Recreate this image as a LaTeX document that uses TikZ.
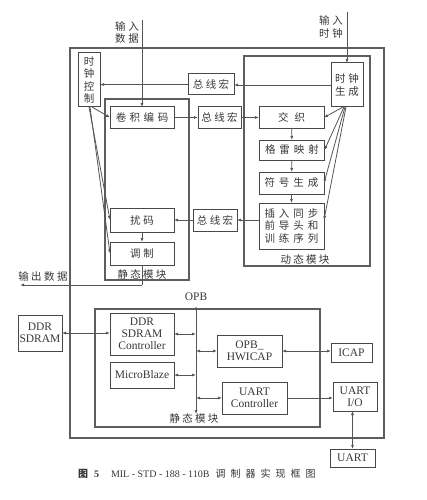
\documentclass[tikz,border=0pt]{standalone}
\usepackage{fontspec}
\setmainfont{Liberation Serif}
\newfontfamily\cjk{Noto Sans CJK SC}
\usetikzlibrary{arrows.meta,calc}
\definecolor{lc}{HTML}{555555}
\definecolor{bc}{HTML}{484848}
\definecolor{tc}{HTML}{383838}
\definecolor{fc}{HTML}{5E5E5E}
\newcommand\cg[1]{\hspace{#1pt}}
\begin{document}
\begin{tikzpicture}[x=1pt,y=-1pt,
  every node/.style={inner sep=0pt,outer sep=0pt,text=tc},
  ln/.style={draw=lc,line width=0.8pt},
  arr/.style={ln,-{Latex[length=4pt,width=3pt]}},
  barr/.style={ln,{Latex[length=4pt,width=3pt]}-{Latex[length=4pt,width=3pt]}},
  box/.style={draw=bc,line width=1pt,align=center},
  cn/.style={font=\cjk\fontsize{10.5}{12.4}\selectfont,align=center},
  en/.style={font=\fontsize{11.5}{12}\selectfont,align=center},
  frame/.style={draw=fc,line width=1.2pt},
]
\fill[white] (0,0) rectangle (427,500);
\useasboundingbox (0,0) rectangle (427,500);

% containers
\draw[frame] (70,48) rectangle (384,438);
\draw[frame] (105,99) rectangle (189,280);
\draw[frame] (244,56) rectangle (370,266);
\draw[frame] (95,309) rectangle (320,427);

% upper nodes
\node[box,cn,minimum width=22pt,minimum height=54pt] (sclk) at (89,80) {时\\钟\\控\\制};
\node[box,cn,minimum width=64pt,minimum height=21pt] (jj) at (142,117.5) {卷\cg{3.5}积\cg{3.5}编\cg{3.5}码};
\node[box,cn,minimum width=46pt,minimum height=21pt] (bus1) at (211,84.5) {总\cg{2.3}线\cg{2.3}宏};
\node[box,cn,minimum width=43pt,minimum height=21pt] (bus2) at (219.5,117.5) {总\cg{2.3}线\cg{2.3}宏};
\node[box,cn,minimum width=44pt,minimum height=22pt] (bus3) at (215,220) {总\cg{2.3}线\cg{2.3}宏};
\node[box,cn,minimum width=32pt,minimum height=44pt] (clkgen) at (347,85) {时\cg{3}钟\\生\cg{3}成};
\node[box,cn,minimum width=65pt,minimum height=21pt] (jz) at (291.5,117.5) {交\cg{6}织};
\node[box,cn,minimum width=65pt,minimum height=20pt] (gl) at (292,150) {格\cg{4}雷\cg{4}映\cg{4}射};
\node[box,cn,minimum width=65pt,minimum height=22pt] (fh) at (291.5,183) {符\cg{4}号\cg{4}生\cg{4}成};
\node[box,cn,minimum width=65pt,minimum height=46pt] (cr) at (291.5,226) {插\cg{4}入\cg{4}同\cg{4}步\\前\cg{4}导\cg{4}头\cg{4}和\\训\cg{4}练\cg{4}序\cg{4}列};
\node[box,cn,minimum width=64pt,minimum height=24pt] (rm) at (142,220) {扰\cg{3}码};
\node[box,cn,minimum width=64pt,minimum height=23pt] (tz) at (142,253.5) {调\cg{3}制};

% labels
\node[cn] (lbl1) at (142,274) {静\cg{2.3}态\cg{2.3}模\cg{2.3}块};
\node[cn] (lbl2) at (305,259) {动\cg{2.3}态\cg{2.3}模\cg{2.3}块};
\node[cn] (lbl3) at (194,418) {静\cg{2.3}态\cg{2.3}模\cg{2.3}块};
\node[cn] (inD) at (127,32.5) {输\cg{3}入\\数\cg{3}据};
\node[cn] (inC) at (331,27) {输\cg{3}入\\时\cg{3}钟};
\node[cn] (outD) at (43,277) {输\cg{2.5}出\cg{2.5}数\cg{2.5}据};

\coordinate (dtop) at (142,20);
\coordinate (ctop) at (347,12);
\coordinate (ocorner) at (142,285);
\coordinate (oend) at (20,285);

% upper connectors
\draw[arr] (dtop) -- (jj);
\draw[arr] (ctop) -- (clkgen);
\draw[arr] (clkgen.west) -- (clkgen.west -| bus1.east);
\draw[arr] (bus1.west) -- (bus1.west -| sclk.east);
\draw[arr] (jj) -- (bus2);
\draw[arr] (bus2) -- (jz);
\draw[arr] (jz) -- (gl);
\draw[arr] (gl) -- (fh);
\draw[arr] (fh) -- (cr);
\draw[arr] (cr.west |- bus3) -- (bus3.east);
\draw[arr] (bus3) -- (rm);
\draw[arr] (rm) -- (tz);
\draw[ln] (tz.south) -- (ocorner);
\draw[arr] (ocorner) -- (oend);

% clock fan from clock generation
\draw[arr] ([xshift=12pt]clkgen.south west) -- (jz.east);
\draw[arr] ([xshift=13pt]clkgen.south west) -- (gl.east);
\draw[arr] ([xshift=14pt]clkgen.south west) -- (fh.east);
\draw[arr] ([xshift=15pt]clkgen.south west) -- ($(cr.east)+(0,-6)$);

% clock control fan
\draw[arr] ([xshift=14pt]sclk.south west) -- (jj.west);
\draw[arr] ([xshift=11pt]sclk.south west) -- (rm.west);
\draw[arr] ([xshift=12pt]sclk.south west) -- (tz.west);

% lower part
\node[en] (opb) at (196,297) {OPB};
\coordinate (busT) at (196,306);
\coordinate (busB) at (196,414);
\draw[barr] (busT) -- (busB);
\node[box,en,minimum width=44pt,minimum height=36pt] (ddr) at (40,333) {DDR\\SDRAM};
\node[box,en,minimum width=64pt,minimum height=42pt] (ddrc) at (142,334) {DDR\\SDRAM\\Controller};
\node[box,en,minimum width=64pt,minimum height=26pt] (mb) at (142,375) {MicroBlaze};
\node[box,en,minimum width=65pt,minimum height=32pt] (hw) at (249.5,351) {OPB\_\\HWICAP};
\node[box,en,minimum width=41pt,minimum height=19pt] (icap) at (351.5,352.5) {ICAP};
\node[box,en,minimum width=65pt,minimum height=32pt] (uc) at (254.5,398) {UART\\Controller};
\node[box,en,minimum width=44pt,minimum height=29pt] (uio) at (355,396.5) {UART\\I/O};
\node[box,en,minimum width=45pt,minimum height=18pt] (uart) at (352.5,458) {UART};

\draw[barr] (ddr.east) -- (ddr.east -| ddrc.west);
\draw[barr] (ddrc.east) -- (ddrc.east -| busT);
\draw[barr] (mb.east) -- (mb.east -| busT);
\draw[barr] (hw.west -| busT) -- (hw.west);
\draw[barr] (hw.east) -- (hw.east -| icap.west);
\draw[barr] (uc.west -| busT) -- (uc.west);
\draw[arr] (uc.east) -- (uc.east -| uio.west);
\draw[barr] (uart.north) -- (uart.north |- uio.south);

% caption
\node[anchor=west,font=\fontsize{10}{11}\selectfont] (cap) at (78,474)
  {{\cjk\bfseries 图}\cg{6}\textbf{5}\cg{12}MIL\cg{2.5}-\cg{2.5}STD\cg{2.5}-\cg{2.5}188\cg{2.5}-\cg{2.5}110B\cg{6}{\cjk 调\cg{5}制\cg{5}器\cg{5}实\cg{5}现\cg{5}框\cg{5}图}};
\end{tikzpicture}
\end{document}
